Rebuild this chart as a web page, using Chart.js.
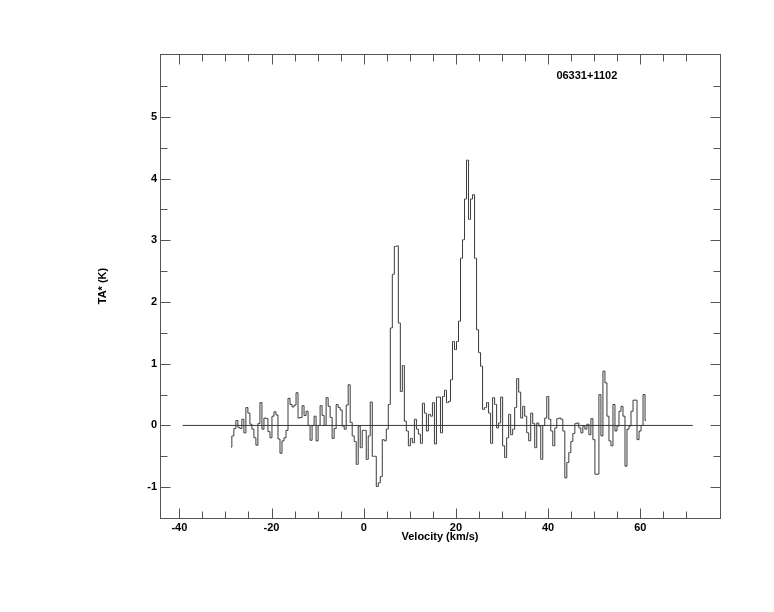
<!DOCTYPE html>
<html>
<head>
<meta charset="utf-8">
<script src="https://cdn.jsdelivr.net/npm/chart.js@4.4.0/dist/chart.umd.min.js"></script>
<style>
  html, body { margin: 0; padding: 0; background: #fff; }
  #wrap { width: 774px; height: 612px; position: relative; }
</style>
</head>
<body>
<div id="wrap"><canvas id="spec"></canvas></div>
<script>
// Spectre 06331+1102, TA* en fonction de la vitesse
const SOURCE_NAME = '06331+1102';
const VEL_START = -28.83;   // km/s, centre du premier canal
const VEL_STEP = 0.4352;    // km/s par canal

const TA = [
    -0.35, -0.17, -0.05, 0.08, -0.03, -0.05, 0.10, -0.12, 0.29, 0.20,
    0.02, -0.06, -0.20, -0.32, 0.03, 0.37, -0.06, 0.12, 0.11, -0.10,
    -0.20, 0.15, 0.22, 0.17, -0.22, -0.45, -0.25, -0.20, -0.08,
    0.44, 0.34, 0.30, 0.33, 0.53, 0.12, 0.13, 0.32, 0.16,
    0.23, 0.00, -0.24, 0.00, 0.15, -0.25, 0.00, 0.32, 0.16, 0.00,
    0.45, 0.31, 0.13, -0.21,
    -0.05, 0.34, 0.29, 0.25, -0.01, -0.06, 0.33, 0.66, 0.05, -0.17,
    -0.26, -0.63, -0.01, -0.36, -0.08, -0.08, -0.55, -0.17, 0.38, -0.50,
    -0.50, -0.99, -0.93, -0.83, -0.23, -0.25, -0.06, 0.34, 1.58, 2.45,
    2.90, 2.91, 1.66, 0.55, 0.97, 0.07, -0.09, -0.33, -0.21, -0.28,
    0.10, -0.06, -0.14, -0.29, 0.36, 0.20, -0.09, 0.18, 0.15, 0.37,
    -0.30, 0.46, 0.46,
    -0.12, 0.47, 0.57, 0.37, 0.39, 0.74, 1.36, 1.23, 1.36, 1.69,
    2.71, 3.01, 3.67, 4.30, 3.34, 3.67, 3.74, 2.71, 1.55, 1.18,
    0.96, 0.26, 0.29, 0.37, 0.20, -0.29, 0.45, 0.34, -0.04, 0.04,
    0.46, -0.33, -0.52, -0.20, 0.18, -0.15, -0.06, 0.29, 0.76, 0.54,
    0.12, 0.31, 0.15, -0.12, -0.25, 0.20, 0.03, -0.36, 0.04, -0.01,
    -0.55,
    0.00, 0.12, 0.47, 0.10, -0.09, -0.33, -0.04, 0.11, 0.12, 0.10,
    -0.09, -0.85, -0.60, -0.44, -0.26, -0.13, 0.03, 0.04, -0.04, -0.12,
    -0.01, -0.06, 0.02, -0.15, 0.11, -0.23, -0.79, -0.79, 0.50, -0.17,
    0.88, 0.69, 0.15, -0.25, -0.33, 0.34, -0.09, -0.01, 0.23, 0.31,
    0.15, -0.66, -0.06, -0.01, 0.23, 0.41, 0.41, -0.23, -0.09, 0.00,
    0.50, 0.08
];

// ligne de base (TA = 0)
const BASELINE_X = [-39.3, 71.4];
const BASELINE_Y = [0, 0];

const X_TICKS = [-40, -20, 0, 20, 40, 60];
const Y_TICKS = [-1, 0, 1, 2, 3, 4, 5];
const X_MIN = -44.2, X_MAX = 77.3;
const Y_MIN = -1.5, Y_MAX = 6.02;

const FONT = { family: '"Liberation Sans", Arial, sans-serif', size: 11, weight: 'bold' };
const INK = '#000';
const LINE = '#3a3a3a';

const spectrum = TA.map((t, i) => ({ x: VEL_START + i * VEL_STEP, y: t }));
const baseline = BASELINE_X.map((v, i) => ({ x: v, y: BASELINE_Y[i] }));

// cadre + graduations vers l'intérieur sur les 4 côtés
const frameTicks = {
    id: 'frameTicks',
    afterDraw(chart) {
        const { ctx, chartArea: a, scales: { x, y } } = chart;
        ctx.save();
        ctx.strokeStyle = '#555';
        ctx.lineWidth = 1;
        const L = Math.round(a.left) + 0.5, R = Math.round(a.right) + 0.5;
        const T = Math.round(a.top) + 0.5, B = Math.round(a.bottom) + 0.5;
        ctx.strokeRect(L, T, R - L, B - T);
        ctx.beginPath();
        for (let v = -40; v <= 70; v += 5) {
            const px = Math.round(x.getPixelForValue(v)) + 0.5;
            const len = v % 20 === 0 ? 10 : 7;
            ctx.moveTo(px, B); ctx.lineTo(px, B - len);
            ctx.moveTo(px, T); ctx.lineTo(px, T + len);
        }
        for (let v = -1; v <= 5.5; v += 0.5) {
            const py = Math.round(y.getPixelForValue(v)) + 0.5;
            const len = Number.isInteger(v) ? 10 : 7;
            ctx.moveTo(L, py); ctx.lineTo(L + len, py);
            ctx.moveTo(R, py); ctx.lineTo(R - len, py);
        }
        ctx.stroke();
        ctx.fillStyle = INK;
        ctx.font = 'bold 11px "Liberation Sans", Arial, sans-serif';
        ctx.textAlign = 'left';
        ctx.textBaseline = 'middle';
        ctx.fillText(SOURCE_NAME, x.getPixelForValue(41.8), y.getPixelForValue(5.66));
        ctx.restore();
    }
};

new Chart(document.getElementById('spec'), {
    type: 'line',
    data: {
        datasets: [{
            data: spectrum,
            stepped: 'middle',
            borderColor: LINE,
            borderWidth: 1,
            pointRadius: 0,
            fill: false,
        }, {
            data: baseline,
            borderColor: LINE,
            borderWidth: 1,
            pointRadius: 0,
            fill: false,
        }],
    },
    options: {
        responsive: true,
        maintainAspectRatio: false,
        animation: false,
        layout: { padding: { left: 90, right: 54, top: 54, bottom: 64 } },
        plugins: { legend: { display: false }, tooltip: { enabled: false } },
        scales: {
            x: {
                type: 'linear',
                min: X_MIN,
                max: X_MAX,
                grid: { display: false, drawTicks: false },
                border: { display: false },
                afterBuildTicks: s => { s.ticks = X_TICKS.map(v => ({ value: v })); },
                afterFit: s => { s.height = 30; },
                ticks: { font: FONT, color: INK, padding: 3, maxRotation: 0, autoSkip: false },
                title: { display: true, text: 'Velocity (km/s)', font: FONT, color: INK, padding: { top: 0, bottom: 4 } },
            },
            y: {
                type: 'linear',
                min: Y_MIN,
                max: Y_MAX,
                grid: { display: false, drawTicks: false },
                border: { display: false },
                afterBuildTicks: s => { s.ticks = Y_TICKS.map(v => ({ value: v })); },
                afterFit: s => { s.width = 70; },
                ticks: { font: FONT, color: INK, padding: 3, autoSkip: false },
                title: { display: true, text: 'TA* (K)', font: FONT, color: INK, padding: { top: 6, bottom: 0 } },
            },
        },
    },
    plugins: [frameTicks],
});
</script>
</body>
</html>
